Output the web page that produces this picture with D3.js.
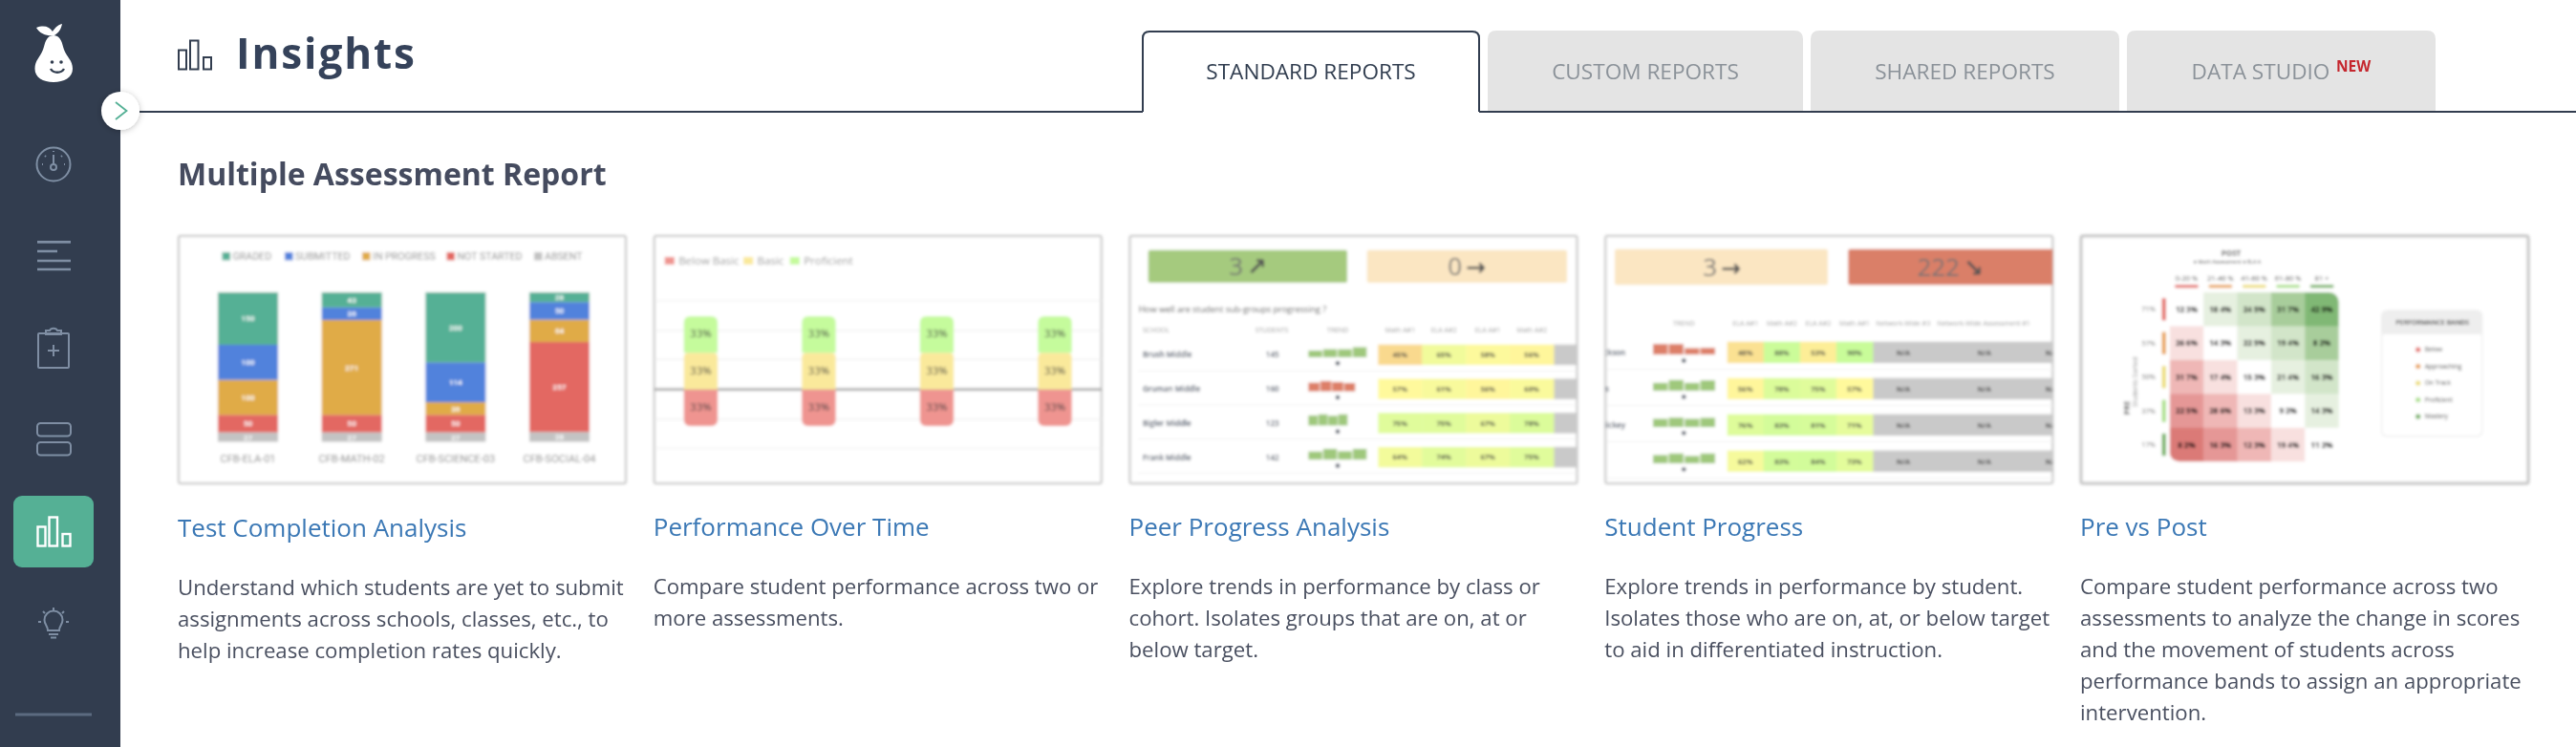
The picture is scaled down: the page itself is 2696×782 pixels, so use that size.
<!DOCTYPE html>
<html>
<head>
<meta charset="utf-8">
<script src="https://cdn.jsdelivr.net/npm/d3@7"></script>
<style>
html, body { margin: 0; padding: 0; background: #fff; overflow: hidden; }
text { font-family: "Open Sans", sans-serif; }
</style>
</head>
<body>
<div id="chart-area"></div>
<script>
// page text
var tabNames = ["STANDARD REPORTS", "CUSTOM REPORTS", "SHARED REPORTS", "DATA STUDIO"];
var reportTitles = ["Test Completion Analysis", "Performance Over Time", "Peer Progress Analysis", "Student Progress", "Pre vs Post"];
var reportLines = [
     ["Understand which students are yet to submit", "assignments across schools, classes, etc., to", "help increase completion rates quickly."],
     ["Compare student performance across two or", "more assessments."],
     ["Explore trends in performance by class or", "cohort. Isolates groups that are on, at or", "below target."],
     ["Explore trends in performance by student.", "Isolates those who are on, at, or below target", "to aid in differentiated instruction."],
     ["Compare student performance across two", "assessments to analyze the change in scores", "and the movement of students across", "performance bands to assign an appropriate", "intervention."]
];

// test completion
var tests = ["CFB-ELA-01", "CFB-MATH-02", "CFB-SCIENCE-03", "CFB-SOCIAL-04"];
var statuses = ["GRADED", "SUBMITTED", "IN PROGRESS", "NOT STARTED", "ABSENT"];
var graded = [150, 43, 200, 28];
var submitted = [100, 36, 114, 50];
var inProgress = [100, 271, 36, 64];
var notStarted = [50, 50, 50, 257];
var absent = [27, 27, 27, 28];

// performance over time
var periods = ["A1", "A2", "A3", "A4"];
var bands = ["Below Basic", "Basic", "Proficient"];
var belowBasic = [33, 33, 33, 33];
var basic = [33, 33, 33, 33];
var proficient = [33, 33, 33, 33];
var gridTicks = [-53, -27, 0, 27, 53, 80];

// peer progress
var peerSchools = ["Brush Middle", "Gruman Middle", "Bigler Middle", "Frank Middle"];
var peerStudents = [145, 160, 123, 142];
var peerColumns = ["Math A#1", "ELA A#2", "ELA A#1", "Math A#2"];
var peerScores = [[45, 65, 58, 56], [57, 61, 56, 60], [75, 75, 67, 78], [64, 74, 67, 75]];
var peerTrend = [[60, 72, 72, 90], [78, 93, 84, 75], [90, 100, 87, 100], [72, 96, 75, 96]];
var peerUp = [true, false, true, true];

// student progress
var studentNames = ["Jackson", "Ross", "Hickey", ""];
var studentColumns = ["ELA A#1", "Math A#2", "ELA A#2", "Math A#1"];
var studentScores = [[48, 88, 53, 90], [56, 78, 75, 57], [76, 83, 81, 71], [62, 83, 84, 73]];
var studentTrend = [[94, 94, 57, 60], [71, 97, 71, 94], [74, 85, 74, 83], [74, 88, 66, 88]];
var studentUp = [false, true, true, true];

// pre vs post
var postBands = ["0-20 %", "21-40 %", "41-60 %", "61-80 %", "81 +"];
var preBands = ["71%", "57%", "50%", "37%", "17%"];
var prePost = [
     [12, 18, 24, 31, 42],
     [26, 14, 22, 19, 8],
     [31, 17, 15, 21, 16],
     [22, 28, 13, 9, 14],
     [8, 16, 12, 19, 11]
];
var legendBands = ["Below", "Approaching", "On Track", "Proficient", "Mastery"];

var navy = "#303e50";
var iconGrey = "#7f8ea3";
var teal = "#54b095";
var bandColors = ["#e36762", "#e8a04d", "#ebdc70", "#a8df85", "#6dae5a"];

var svg = d3.select("#chart-area").append("svg")
     .attr("width", 2696)
     .attr("height", 782)
     .style("display", "block");

var defs = svg.append("defs");

function blurFilter(id, amount) {
     defs.append("filter").attr("id", id)
          .attr("filterUnits", "userSpaceOnUse")
          .attr("x", 0).attr("y", 0).attr("width", 2696).attr("height", 782)
          .append("feGaussianBlur").attr("stdDeviation", amount);
}
blurFilter("page", 0.55);
blurFilter("soft", 1.45);
blurFilter("softer", 1.8);

defs.append("filter").attr("id", "shadow")
     .attr("x", "-30%").attr("y", "-30%").attr("width", "160%").attr("height", "160%")
     .append("feDropShadow")
     .attr("dx", 0).attr("dy", 1).attr("stdDeviation", 3).attr("flood-color", "#000").attr("flood-opacity", 0.25);

// rect with its own radius on each corner
function roundRect(x, y, w, h, tl, tr, br, bl) {
     var p = d3.path();
     p.moveTo(x + tl, y);
     p.lineTo(x + w - tr, y);
     p.quadraticCurveTo(x + w, y, x + w, y + tr);
     p.lineTo(x + w, y + h - br);
     p.quadraticCurveTo(x + w, y + h, x + w - br, y + h);
     p.lineTo(x + bl, y + h);
     p.quadraticCurveTo(x, y + h, x, y + h - bl);
     p.lineTo(x, y + tl);
     p.quadraticCurveTo(x, y, x + tl, y);
     p.closePath();
     return p.toString();
}

function label(parent, str, x, y, size, color, weight, anchor) {
     return parent.append("text")
          .attr("x", x)
          .attr("y", y)
          .attr("font-size", size)
          .attr("fill", color)
          .attr("font-weight", weight || 400)
          .attr("text-anchor", anchor || "start")
          .text(str);
}

/*
*    sidebar
*/
var side = svg.append("g").attr("filter", "url(#page)");

side.append("rect").attr("width", 126).attr("height", 782).attr("fill", navy);

var pear = side.append("g");
pear.append("path").attr("fill", "#fff")
     .attr("d", "M56 37C48 37 47 46 45 52C42 60 36.5 63 36.5 72C36.5 81 45 86 56 86C67 86 76 81 76 72C76 63 70 60 67 52C65 46 64 37 56 37Z");
pear.append("path").attr("fill", "#fff")
     .attr("d", "M38 29C46 26 52 28 55 33C57 30 60 26 65 25C64 30 62 34 57 37C50 38 42 36 38 29Z");
pear.append("circle").attr("cx", 54.5).attr("cy", 65).attr("r", 1.8).attr("fill", navy);
pear.append("circle").attr("cx", 64).attr("cy", 65).attr("r", 1.8).attr("fill", navy);
pear.append("path").attr("d", "M53 72C56 77 64 77 67 72").attr("fill", "none").attr("stroke", navy).attr("stroke-width", 2.4);

var icons = side.append("g")
     .attr("fill", "none")
     .attr("stroke", iconGrey)
     .attr("stroke-width", 2);

icons.append("circle").attr("cx", 56).attr("cy", 172).attr("r", 17.5);
icons.append("circle").attr("cx", 56).attr("cy", 175).attr("r", 3);
icons.append("path").attr("d", "M56 172V162M44 172h1M67 172h1M47 163l1 1M65 163l-1 1M56 158v1");

icons.selectAll(".menu-line")
     .data([[39, 74, 253.4], [39, 60, 263], [39, 74, 273], [39, 74, 282]])
     .enter()
     .append("line")
     .attr("x1", function (d) { return d[0]; })
     .attr("x2", function (d) { return d[1]; })
     .attr("y1", function (d) { return d[2]; })
     .attr("y2", function (d) { return d[2]; })
     .attr("stroke-width", 2.6);

icons.append("rect").attr("x", 40).attr("y", 349).attr("width", 32).attr("height", 36).attr("rx", 1);
icons.append("path").attr("d", "M48 350v-4h4c1-3 7-3 8 0h4v4zM50 367h12M56 361v12");

icons.append("rect").attr("x", 39).attr("y", 443).attr("width", 35).attr("height", 13.5).attr("rx", 3.5);
icons.append("rect").attr("x", 39).attr("y", 463).attr("width", 35).attr("height", 13.5).attr("rx", 3.5);

side.append("rect").attr("x", 14).attr("y", 519).attr("width", 84).attr("height", 75).attr("rx", 9).attr("fill", teal);

function barIcon(parent, x, y, color, width) {
     var g = parent.append("g")
          .attr("transform", "translate(" + x + "," + y + ")")
          .attr("fill", "none")
          .attr("stroke", color)
          .attr("stroke-width", width);
     g.append("rect").attr("x", 0).attr("y", 10).attr("width", 8).attr("height", 20);
     g.append("rect").attr("x", 12).attr("y", 0).attr("width", 8.5).attr("height", 30);
     g.append("rect").attr("x", 26).attr("y", 17.5).attr("width", 8).attr("height", 12.5);
}
barIcon(side, 39.5, 541.5, "#fff", 2.4);

icons.append("path").attr("d", "M50 660C50 655 46.5 654 46.5 649A9.5 9.5 0 0 1 65.5 649C65.5 654 62 655 62 660ZM51 664h10M53 667.5h6");
icons.append("path").attr("d", "M40 651h3M69 651h3M56 636v3M45 640l2 2M67 640l-2 2");

side.append("line").attr("x1", 16).attr("x2", 96).attr("y1", 748).attr("y2", 748).attr("stroke", "#5b6b80").attr("stroke-width", 3);

/*
*    header and tabs
*/
var header = svg.append("g").attr("filter", "url(#page)");

barIcon(header, 187, 42.5, navy, 2);

label(header, "Insights", 247, 72, 44, "#35435a", 700).attr("letter-spacing", 1.9);

header.append("path")
     .attr("d", "M146 117H1196M1548 117H2696")
     .attr("stroke", navy)
     .attr("stroke-width", 2.2)
     .attr("fill", "none");

var tabEdges = [[1196, 1548], [1557, 1887], [1895, 2218], [2226, 2549]];

tabEdges.slice(1).forEach(function (d) {
     header.append("path")
          .attr("d", roundRect(d[0], 32, d[1] - d[0], 84, 9, 9, 0, 0))
          .attr("fill", "#e4e4e4");
});

header.append("path")
     .attr("d", "M1196 117V40Q1196 33 1203 33H1541Q1548 33 1548 40V117")
     .attr("fill", "#fff")
     .attr("stroke", navy)
     .attr("stroke-width", 2);

label(header, tabNames[0], 1372, 83, 22.6, navy, 400, "middle");
label(header, tabNames[1], 1722, 83, 22.6, "#8b9299", 400, "middle");
label(header, tabNames[2], 2056.5, 83, 22.6, "#8b9299", 400, "middle");
label(header, tabNames[3], 2366, 83, 22.6, "#8b9299", 400, "middle");
label(header, "NEW", 2445, 75, 15.5, "#c5282f", 700);

/*
*    report text under the thumbnails
*/
var page = svg.append("g").attr("filter", "url(#page)");

label(page, "Multiple Assessment Report", 186, 193.5, 32, "#454c5e", 700);

var cardX = d3.scaleLinear().domain([0, 4]).range([187, 2178]);

reportTitles.forEach(function (t, i) {
     // the first card sits one pixel lower in the screenshot
     var drop = i === 0 ? 1 : 0;
     label(page, t, cardX(i) - 1, 560.5 + drop, 26, "#3b78b5", 400);
     reportLines[i].forEach(function (line, j) {
          label(page, line, cardX(i) - 1, 622 + drop + j * 33, 22.2, "#4a5060", 400);
     });
});

// thumbnail frame; content is clipped to it and blurred
function thumbnail(i, filter, border) {
     var x = cardX(i);
     var id = "clip-" + i;
     defs.append("clipPath").attr("id", id)
          .append("rect").attr("x", x).attr("y", 247).attr("width", 468).attr("height", 259);
     var outer = svg.append("g").attr("filter", "url(#" + filter + ")");
     outer.append("rect")
          .attr("x", x).attr("y", 247).attr("width", 468).attr("height", 259)
          .attr("rx", 2)
          .attr("fill", "#fff")
          .attr("stroke", "#c4c4c4")
          .attr("stroke-width", border);
     return outer.append("g").attr("clip-path", "url(#" + id + ")");
}

/*
*    1. test completion stacked bars
*/
var t1 = thumbnail(0, "soft", 2);

var stackRows = tests.map(function (t, i) {
     return { test: t, GRADED: graded[i], SUBMITTED: submitted[i], "IN PROGRESS": inProgress[i], "NOT STARTED": notStarted[i], ABSENT: absent[i] };
});

var statusColor = d3.scaleOrdinal()
     .domain(statuses)
     .range([teal, "#5182dc", "#e0ab47", "#e36762", "#c3c3c3"]);

var x1 = d3.scaleBand()
     .domain(tests)
     .range([228, 617])
     .paddingInner(0.42)
     .paddingOuter(0);

var y1 = d3.scaleLinear()
     .domain([0, 427])
     .range([462.5, 306]);

var layers = d3.stack().keys(statuses.slice().reverse())(stackRows);

var layer = t1.selectAll(".layer")
     .data(layers)
     .enter()
     .append("g")
     .attr("fill", function (d) { return statusColor(d.key); });

layer.selectAll("rect")
     .data(function (d) { return d; })
     .enter()
     .append("rect")
     .attr("x", function (d) { return x1(d.data.test); })
     .attr("y", function (d) { return y1(d[1]); })
     .attr("width", x1.bandwidth())
     .attr("height", function (d) { return y1(d[0]) - y1(d[1]); });

layer.selectAll("text")
     .data(function (d) { return d; })
     .enter()
     .append("text")
     .attr("x", function (d) { return x1(d.data.test) + x1.bandwidth() / 2; })
     .attr("y", function (d) { return (y1(d[0]) + y1(d[1])) / 2 + 3; })
     .attr("text-anchor", "middle")
     .attr("font-size", 8)
     .attr("font-weight", 700)
     .attr("fill", "#fff")
     .style("font-family", "Roboto")
     .text(function (d) { return d[1] - d[0]; });

var axis1 = t1.append("g")
     .attr("transform", "translate(0,468)")
     .call(d3.axisBottom(x1).tickSize(0).tickPadding(8));
axis1.select(".domain").remove();
axis1.selectAll("text")
     .attr("font-size", 11)
     .attr("fill", "#8a8a8a")
     .style("font-family", "Roboto");

var legend1X = [232.5, 298, 379, 467.5, 559];
statuses.forEach(function (s, i) {
     t1.append("rect")
          .attr("x", legend1X[i]).attr("y", 264).attr("width", 8.5).attr("height", 8.5)
          .attr("fill", statusColor(s));
     label(t1, s, legend1X[i] + 11, 272, 10.6, "#8f8f8f", 400).style("font-family", "Roboto");
});

/*
*    2. performance over time
*/
var t2 = thumbnail(1, "soft", 2);

var x2 = d3.scalePoint()
     .domain(periods)
     .range([733.4, 1104]);

var y2 = d3.scaleLinear()
     .domain([-33, 66])
     .range([446, 331]);

t2.selectAll(".grid")
     .data(gridTicks)
     .enter()
     .append("line")
     .attr("x1", 685)
     .attr("x2", 1153)
     .attr("y1", function (d) { return y2(d); })
     .attr("y2", function (d) { return y2(d); })
     .attr("stroke", function (d) { return d === 0 ? "#a0a0a0" : "#eeeeee"; })
     .attr("stroke-width", function (d) { return d === 0 ? 2.5 : 1.2; });

var band2Color = d3.scaleOrdinal()
     .domain(bands)
     .range(["#ef9490", "#fae99b", "#c5fb9c"]);

periods.forEach(function (p, i) {
     var cells = [
          { band: bands[0], lo: -belowBasic[i], hi: 0, radius: [0, 0, 7, 7] },
          { band: bands[1], lo: 0, hi: basic[i], radius: [5, 5, 0, 0] },
          { band: bands[2], lo: basic[i], hi: basic[i] + proficient[i], radius: [7, 7, 0, 0] }
     ];
     var col = t2.append("g");
     col.selectAll("path")
          .data(cells)
          .enter()
          .append("path")
          .attr("d", function (d) {
               return roundRect(x2(p) - 17.7, y2(d.hi), 35.4, y2(d.lo) - y2(d.hi), d.radius[0], d.radius[1], d.radius[2], d.radius[3]);
          })
          .attr("fill", function (d) { return band2Color(d.band); });
     col.selectAll("text")
          .data(cells)
          .enter()
          .append("text")
          .attr("x", x2(p))
          .attr("y", function (d) { return y2((d.lo + d.hi) / 2) + 3; })
          .attr("text-anchor", "middle")
          .attr("font-size", 11.5)
          .attr("fill", "#3d3d3d")
          .text(function (d) { return (d.hi - d.lo) + "%"; });
});

var legend2X = [695.7, 778, 826.7];
bands.forEach(function (b, i) {
     t2.append("rect")
          .attr("x", legend2X[i]).attr("y", 269).attr("width", 10.2).attr("height", 8)
          .attr("fill", band2Color(b));
     label(t2, b, legend2X[i] + 14.5, 277, 11.5, "#969696", 400);
});

/*
*    3 and 4. progress tables
*/
var scoreColor = d3.scaleLinear()
     .domain([45, 57, 70, 90])
     .range(["#f9d98e", "#fff99c", "#e8fc9b", "#c8fc99"]);

var trendHeight = d3.scaleLinear().domain([0, 100]).range([0, 11.7]);

function summaryBox(parent, x, y, w, h, color, count, arrow, textX) {
     parent.append("rect")
          .attr("x", x).attr("y", y).attr("width", w).attr("height", h).attr("rx", 2)
          .attr("fill", color);
     label(parent, count, textX, y + h / 2 + 9.5, 26, "#737373", 400, "end");
     label(parent, arrow, textX + 4, y + h / 2 + 9.5, 25, "#555", 700).style("font-family", "DejaVu Sans");
}

function progressTable(g, cfg) {
     var cols = d3.scaleBand().domain(cfg.columns).range(cfg.colRange);
     var rows = d3.scaleBand().domain(d3.range(cfg.scores.length)).range(cfg.rowRange).paddingInner(cfg.rowPad).paddingOuter(0);

     var head = g.append("g")
          .attr("transform", "translate(0," + cfg.headY + ")")
          .call(d3.axisTop(cols).tickSize(0).tickPadding(0));
     head.select(".domain").remove();
     head.selectAll("text").attr("font-size", 7).attr("fill", "#999").attr("dy", 0);

     cfg.scores.forEach(function (row, r) {
          var top = rows(r);
          var mid = top + rows.bandwidth() / 2;

          g.append("line")
               .attr("x1", cfg.sepFrom).attr("x2", cfg.sepTo)
               .attr("y1", top + rows.bandwidth() + rows.step() * 0.17)
               .attr("y2", top + rows.bandwidth() + rows.step() * 0.17)
               .attr("stroke", "#f1f1f1");

          g.append("rect")
               .attr("x", cfg.colRange[1])
               .attr("y", top)
               .attr("width", cfg.frameRight - cfg.colRange[1])
               .attr("height", rows.bandwidth())
               .attr("fill", "#c9c9c9");

          g.selectAll(".score-" + r)
               .data(row)
               .enter()
               .append("rect")
               .attr("x", function (d, i) { return cols(cfg.columns[i]); })
               .attr("y", top)
               .attr("width", cols.bandwidth() + 0.5)
               .attr("height", rows.bandwidth())
               .attr("fill", function (d) { return scoreColor(d); });

          g.selectAll(".score-label-" + r)
               .data(row)
               .enter()
               .append("text")
               .attr("x", function (d, i) { return cols(cfg.columns[i]) + cols.bandwidth() / 2; })
               .attr("y", mid + 2.8)
               .attr("text-anchor", "middle")
               .attr("font-size", 7.5)
               .attr("font-weight", 700)
               .attr("fill", "#444")
               .text(function (d) { return d + "%"; });

          var spark = d3.scaleBand()
               .domain(d3.range(4))
               .range([cfg.trendLeft, cfg.trendLeft + cfg.trendWidths[r]])
               .paddingInner(0.07);
          var base = top + rows.bandwidth() * cfg.trendBase;

          g.selectAll(".trend-" + r)
               .data(cfg.trend[r])
               .enter()
               .append("rect")
               .attr("x", function (d, i) { return spark(i); })
               .attr("y", function (d) { return base - trendHeight(d); })
               .attr("width", spark.bandwidth())
               .attr("height", function (d) { return trendHeight(d); })
               .attr("fill", cfg.up[r] ? "#9fc87c" : "#dd7f67");

          g.append("circle")
               .attr("cx", cfg.dotX)
               .attr("cy", base + 6.3)
               .attr("r", 2.2)
               .attr("fill", "#3f4a5c");
     });
     return rows;
}

var t3 = thumbnail(2, "soft", 2);

summaryBox(t3, 1201.7, 261.7, 208.3, 34.3, "#a5ca7e", "3", "\u2197", 1301);
summaryBox(t3, 1430.7, 261.7, 209.3, 34.3, "#fbe6c2", "0", "\u2192", 1530);

label(t3, "How well are student sub-groups progressing ?", 1191.7, 327, 9, "#555", 400);
label(t3, "SCHOOL", 1196, 348, 7, "#999", 400);
label(t3, "STUDENTS", 1331, 348, 7, "#999", 400, "middle");
label(t3, "TREND", 1400, 348, 7, "#999", 400, "middle");

var rows3 = progressTable(t3, {
     columns: peerColumns,
     scores: peerScores,
     trend: peerTrend,
     up: peerUp,
     colRange: [1442.3, 1626],
     rowRange: [360.7, 489.3],
     rowPad: 0.4,
     headY: 348,
     sepFrom: 1191,
     sepTo: 1650,
     frameRight: 1651,
     trendLeft: 1369.3,
     trendWidths: [61, 49, 41, 61],
     trendBase: 0.62,
     dotX: 1400
});

peerSchools.forEach(function (s, i) {
     var mid = rows3(i) + rows3.bandwidth() / 2 + 3;
     label(t3, s, 1196, mid, 8, "#3a4558", 600);
     label(t3, peerStudents[i], 1331.7, mid, 8, "#3a4558", 600, "middle");
});

var t4 = thumbnail(3, "soft", 2);

summaryBox(t4, 1690, 260.7, 223, 37.6, "#fbe6c2", "3", "\u2192", 1797);
summaryBox(t4, 1934.3, 260.7, 216, 37.6, "#da7f67", "222", "\u2198", 2051);

label(t4, "TREND", 1762.3, 341, 7, "#999", 400, "middle");
label(t4, "Network-Wide #3", 1991.7, 341, 7, "#999", 400, "middle");
label(t4, "Network-Wide Assessment #1", 2076, 341, 7, "#999", 400, "middle");

var rows4 = progressTable(t4, {
     columns: studentColumns,
     scores: studentScores,
     trend: studentTrend,
     up: studentUp,
     colRange: [1807.7, 1960],
     rowRange: [357.7, 494],
     rowPad: 0.41,
     headY: 341,
     sepFrom: 1681,
     sepTo: 2149,
     frameRight: 2149,
     trendLeft: 1730,
     trendWidths: [65, 65, 65, 65],
     trendBase: 0.6,
     dotX: 1762.3
});

// only the tail of each name shows at the cropped left edge
var nameEnds = [1701, 1684, 1701, 1701];
studentNames.forEach(function (s, i) {
     var mid = rows4(i) + rows4.bandwidth() / 2 + 3;
     label(t4, s, nameEnds[i], mid, 8, "#3a4558", 600, "end");
     [1992, 2076.7, 2148].forEach(function (x) {
          label(t4, "N/A", x, mid, 7.5, "#444", 700, "middle");
     });
});

/*
*    5. pre vs post matrix
*/
var t5 = thumbnail(4, "softer", 3);

var xPost = d3.scaleBand().domain(postBands).range([2270.7, 2447.7]);
var yPre = d3.scaleBand().domain(preBands).range([306, 483.3]);

var shiftColor = d3.scaleLinear()
     .domain([-4, -3, -2, -1, 0, 1, 2, 3, 4])
     .range(["#db7a77", "#e59796", "#efb7b6", "#f8e0df", "#ffffff", "#e6f0e0", "#d2e5c9", "#a8cd9b", "#80b874"]);

defs.append("clipPath").attr("id", "matrix-clip")
     .append("rect")
     .attr("x", 2270.7).attr("y", 306).attr("width", 177).attr("height", 177.3).attr("rx", 10);

var matrix = t5.append("g").attr("clip-path", "url(#matrix-clip)");
var matrixTotal = d3.sum(prePost, function (r) { return d3.sum(r); });

prePost.forEach(function (row, r) {
     matrix.selectAll(".cell-" + r)
          .data(row)
          .enter()
          .append("rect")
          .attr("x", function (d, c) { return xPost(postBands[c]); })
          .attr("y", yPre(preBands[r]))
          .attr("width", xPost.bandwidth() + 0.5)
          .attr("height", yPre.bandwidth() + 0.5)
          .attr("fill", function (d, c) { return shiftColor(c - r); });
     matrix.selectAll(".cell-label-" + r)
          .data(row)
          .enter()
          .append("text")
          .attr("x", function (d, c) { return xPost(postBands[c]) + xPost.bandwidth() / 2; })
          .attr("y", yPre(preBands[r]) + yPre.bandwidth() / 2 + 3)
          .attr("text-anchor", "middle")
          .attr("font-size", 8)
          .attr("font-weight", 700)
          .attr("fill", "#000")
          .text(function (d) { return d + " " + Math.round(d / matrixTotal * 100) + "%"; });
});

var axisTop5 = t5.append("g")
     .attr("transform", "translate(0,294)")
     .call(d3.axisTop(xPost).tickSize(0).tickPadding(0));
axisTop5.select(".domain").remove();
axisTop5.selectAll("text").attr("font-size", 7.5).attr("fill", "#444");

var axisLeft5 = t5.append("g")
     .attr("transform", "translate(2256,0)")
     .call(d3.axisLeft(yPre).tickSize(0).tickPadding(0));
axisLeft5.select(".domain").remove();
axisLeft5.selectAll("text").attr("font-size", 7.5).attr("fill", "#666");

t5.selectAll(".post-bar")
     .data(postBands)
     .enter()
     .append("rect")
     .attr("x", function (d) { return xPost(d) + 5.5; })
     .attr("y", 298.3)
     .attr("width", 24.5)
     .attr("height", 3)
     .attr("rx", 1)
     .attr("fill", function (d, i) { return bandColors[i]; });

t5.selectAll(".pre-bar")
     .data(preBands)
     .enter()
     .append("rect")
     .attr("x", 2262.7)
     .attr("y", function (d) { return yPre(d) + 6; })
     .attr("width", 4)
     .attr("height", 23.5)
     .attr("rx", 1)
     .attr("fill", function (d, i) { return bandColors[i]; });

label(t5, "POST", 2335, 268, 8, "#666", 700, "middle");
label(t5, "\u25CF Math Assessment \u25CF ELA A", 2331, 275.5, 5.5, "#444", 400, "middle");

label(t5, "Students Sorted", 0, 0, 7, "#888", 400, "middle")
     .attr("transform", "translate(2237,400) rotate(-90)");
label(t5, "PRE", 0, 0, 8, "#666", 700, "middle")
     .attr("transform", "translate(2229,427) rotate(-90)");

// legend card
t5.append("path")
     .attr("d", roundRect(2492.7, 325, 105, 131.7, 6, 6, 6, 6))
     .attr("fill", "#fff")
     .attr("stroke", "#ececec")
     .attr("stroke-width", 1.2);
t5.append("path")
     .attr("d", roundRect(2492.7, 325, 105, 25, 6, 6, 0, 0))
     .attr("fill", "#eeeeee");
label(t5, "PERFORMANCE BANDS", 2545.7, 340, 7, "#333", 600, "middle");

var legendY = d3.scalePoint().domain(legendBands).range([366, 436]);
t5.selectAll(".legend-dot")
     .data(legendBands)
     .enter()
     .append("circle")
     .attr("cx", 2530.7)
     .attr("cy", function (d) { return legendY(d); })
     .attr("r", 2.6)
     .attr("fill", function (d, i) { return bandColors[i]; });
t5.selectAll(".legend-text")
     .data(legendBands)
     .enter()
     .append("text")
     .attr("x", 2537.7)
     .attr("y", function (d) { return legendY(d) + 2; })
     .attr("font-size", 6.5)
     .attr("fill", "#444")
     .text(function (d) { return d; });

/*
*    sidebar toggle sits on top of the header line
*/
svg.append("circle")
     .attr("cx", 126).attr("cy", 116).attr("r", 20)
     .attr("fill", "#fff")
     .attr("filter", "url(#shadow)");
svg.append("path")
     .attr("d", "M121 107L132.5 116L121 125")
     .attr("fill", "none")
     .attr("stroke", teal)
     .attr("stroke-width", 1.8);
</script>
</body>
</html>
